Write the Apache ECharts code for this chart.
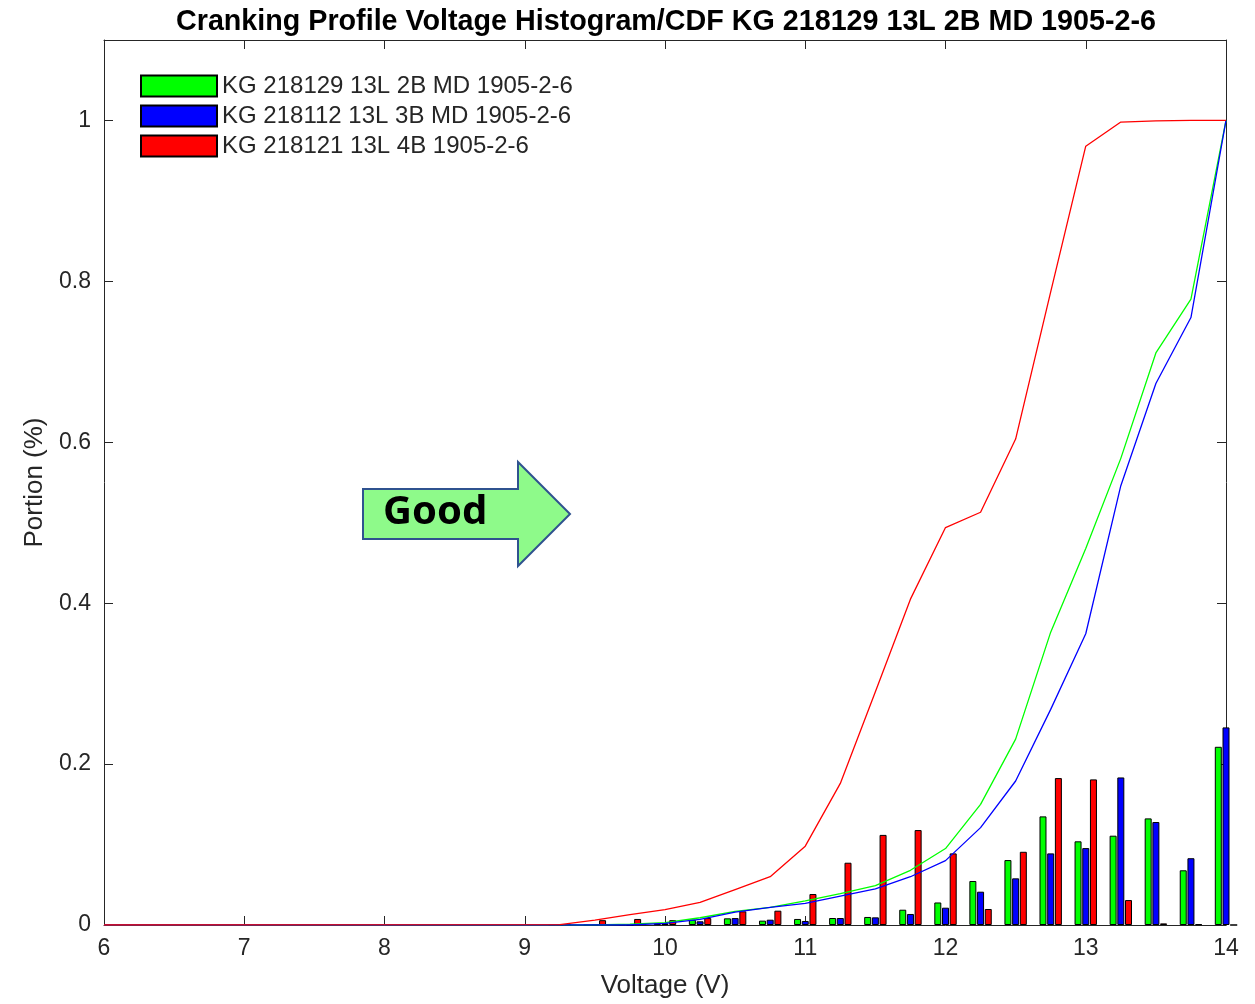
<!DOCTYPE html>
<html>
<head>
<meta charset="utf-8">
<title>Cranking Profile Voltage Histogram/CDF</title>
<script src="https://cdn.jsdelivr.net/npm/echarts@6/dist/echarts.min.js"></script>
<style>
  html, body { margin: 0; padding: 0; background: #fff; }
  #main { width: 1255px; height: 1004px; }
</style>
</head>
<body>
<div id="main"></div>
<script>
// bin centres (V), 0.25 V wide bins
var volts = [9.25, 9.5, 9.75, 10, 10.25, 10.5, 10.75, 11, 11.25, 11.5,
             11.75, 12, 12.25, 12.5, 12.75, 13, 13.25, 13.5, 13.75, 14];
var cdfStartVolt = 6;

var names = ['KG 218129 13L 2B MD 1905-2-6', 'KG 218112 13L 3B MD 1905-2-6', 'KG 218121 13L 4B 1905-2-6'];
var colors = ['#00ff00', '#0000ff', '#ff0000'];

// histogram portions
var histGreen = [0, 0, 0.001, 0.002, 0.0066, 0.0083, 0.0054, 0.0075, 0.0087, 0.010,
                 0.019, 0.028, 0.0547, 0.0807, 0.135, 0.104, 0.111, 0.1325, 0.068, 0.2215];
var histBlue  = [0, 0, 0, 0.002, 0.0046, 0.0086, 0.0066, 0.005, 0.0087, 0.0095,
                 0.0137, 0.0215, 0.0414, 0.058, 0.089, 0.0956, 0.1834, 0.128, 0.083, 0.2456];
var histRed   = [0.001, 0.006, 0.0075, 0.006, 0.0086, 0.017, 0.0178, 0.0385, 0.0774, 0.112,
                 0.118, 0.089, 0.0199, 0.091, 0.1826, 0.181, 0.031, 0.002, 0.001, 0];

// CDF curves
var cdfGreen = [0, 0, 0.001, 0.003, 0.009, 0.017, 0.022, 0.030, 0.039, 0.049,
                0.068, 0.095, 0.150, 0.231, 0.364, 0.468, 0.580, 0.711, 0.778, 1.0];
var cdfBlue  = [0, 0, 0, 0.002, 0.007, 0.016, 0.022, 0.027, 0.036, 0.045,
                0.060, 0.080, 0.121, 0.179, 0.268, 0.362, 0.546, 0.673, 0.755, 1.0];
var cdfRed   = [0.0005, 0.006, 0.013, 0.019, 0.028, 0.044, 0.060, 0.098, 0.176, 0.290,
                0.405, 0.494, 0.513, 0.604, 0.787, 0.968, 0.998, 0.9995, 1.0, 1.0];

var yTicks = [0, 0.2, 0.4, 0.6, 0.8, 1];

function pairs(vals, start) {
    var out = start !== undefined ? [[start, 0]] : [];
    for (var i = 0; i < volts.length; i++) out.push([volts[i], vals[i]]);
    return out;
}

var font = '"Liberation Sans", Arial, Helvetica, sans-serif';
var axisColor = '#262626';

var chart = echarts.init(document.getElementById('main'));

var hists = [histGreen, histBlue, histRed];
var cdfs = [cdfGreen, cdfBlue, cdfRed];
var series = [];
for (var k = 0; k < 3; k++) {
    series.push({
        name: names[k],
        type: 'bar',
        data: pairs(hists[k]),
        barWidth: 7,
        barGap: '10%',
        clip: true,
        itemStyle: { color: colors[k], borderColor: '#000', borderWidth: 1 },
        z: 2
    });
}
for (var k = 0; k < 3; k++) {
    series.push({
        name: 'CDF ' + names[k],
        type: 'line',
        data: pairs(cdfs[k], cdfStartVolt),
        showSymbol: false,
        symbol: 'none',
        clip: true,
        lineStyle: { color: colors[k], width: 1.3 },
        z: 3
    });
}

var innerTick = { show: true, inside: true, length: 9, lineStyle: { color: axisColor } };

chart.setOption({
    animation: false,
    backgroundColor: '#fff',
    title: {
        text: 'Cranking Profile Voltage Histogram/CDF KG 218129 13L 2B MD 1905-2-6',
        left: 171,
        top: 3,
        textStyle: { fontFamily: font, fontWeight: 'bold', fontSize: 28.7, color: '#000' }
    },
    legend: {
        data: names,
        orient: 'vertical',
        left: 140,
        top: 74,
        padding: 0,
        icon: 'rect',
        itemWidth: 76,
        itemHeight: 21,
        itemGap: 6,
        textStyle: { fontFamily: font, fontSize: 24, lineHeight: 21, color: '#262626' }
    },
    grid: { left: 104, right: 29, top: 40, bottom: 78, containLabel: false },
    xAxis: [{
        type: 'value', min: 6, max: 14, interval: 1,
        name: 'Voltage (V)', nameLocation: 'middle', nameGap: 48,
        nameTextStyle: { fontFamily: font, fontSize: 26, color: axisColor },
        axisLine: { show: true, lineStyle: { color: axisColor } },
        axisTick: innerTick,
        axisLabel: { fontFamily: font, fontSize: 23, color: axisColor, margin: 12 },
        splitLine: { show: false }
    }, {
        type: 'value', min: 6, max: 14, interval: 1, position: 'top',
        axisLine: { show: true, onZero: false, lineStyle: { color: axisColor } },
        axisTick: innerTick,
        axisLabel: { show: false },
        splitLine: { show: false }
    }],
    yAxis: [{
        type: 'value', min: 0, max: 1.1, interval: 0.2,
        name: 'Portion (%)', nameLocation: 'middle', nameGap: 56,
        nameTextStyle: { fontFamily: font, fontSize: 26, color: axisColor },
        axisLine: { show: true, lineStyle: { color: axisColor } },
        axisTick: innerTick,
        axisLabel: {
            fontFamily: font, fontSize: 23, color: axisColor, margin: 13,
            showMaxLabel: false,
            formatter: function (v) { return yTicks.indexOf(v) >= 0 ? String(v) : ''; }
        },
        splitLine: { show: false }
    }, {
        type: 'value', min: 0, max: 1.1, interval: 0.2, position: 'right',
        axisLine: { show: true, onZero: false, lineStyle: { color: axisColor } },
        axisTick: innerTick,
        axisLabel: { show: false },
        splitLine: { show: false }
    }],
    series: series,
    graphic: [{
        type: 'polygon',
        shape: {
            points: [[363, 489], [518, 489], [518, 462], [570, 514],
                     [518, 566], [518, 539], [363, 539]]
        },
        style: { fill: '#8efa8a', stroke: '#2f528f', lineWidth: 2 },
        z: 10
    }, {
        type: 'text',
        left: 383,
        top: 493,
        style: {
            text: 'Good',
            font: 'bold 40px "Noto Sans", "Open Sans", sans-serif',
            fill: '#000'
        },
        z: 11
    }]
});
</script>
</body>
</html>
